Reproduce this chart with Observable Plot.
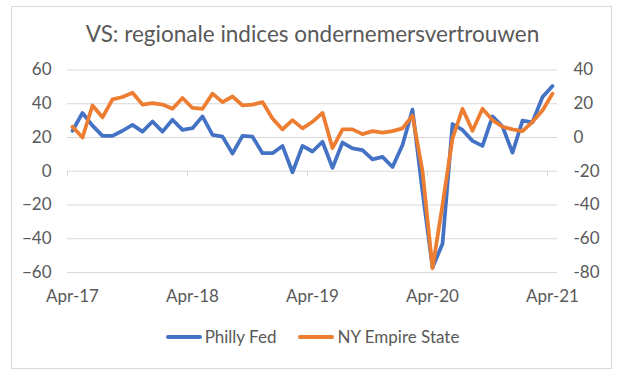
<!DOCTYPE html>
<html><head><meta charset="utf-8">
<script src="https://cdn.jsdelivr.net/npm/d3@7"></script>
<script src="https://cdn.jsdelivr.net/npm/@observablehq/plot@0.6"></script>
<style>
body{margin:0;background:#fff;}
#wrap{position:relative;width:625px;height:373px;font-family:Lato,sans-serif;color:#595959;overflow:hidden;}
#frame{position:absolute;left:11px;top:6px;width:601px;height:363px;border:1px solid #d9d9d9;box-sizing:border-box;}
#title{position:absolute;left:0;top:21px;width:625px;text-align:center;font-size:22.5px;line-height:26px;}
#chart{position:absolute;left:0;top:0;}
#legend{position:absolute;left:0;top:327px;width:625px;display:flex;justify-content:center;align-items:center;font-size:17px;line-height:20px;}
.item{display:flex;align-items:center;margin:0 11px;}
.sw{display:inline-block;width:36px;height:4px;margin-right:3px;border-radius:2px;}
</style></head>
<body><div id="wrap">
<div id="frame"></div>
<div id="title">VS: regionale indices ondernemersvertrouwen</div>
<div id="chart"></div>
<div id="legend"></div>
</div>
<script>
const months = ["Apr-17","May-17","Jun-17","Jul-17","Aug-17","Sep-17","Oct-17","Nov-17","Dec-17",
"Jan-18","Feb-18","Mar-18","Apr-18","May-18","Jun-18","Jul-18","Aug-18","Sep-18","Oct-18","Nov-18","Dec-18",
"Jan-19","Feb-19","Mar-19","Apr-19","May-19","Jun-19","Jul-19","Aug-19","Sep-19","Oct-19","Nov-19","Dec-19",
"Jan-20","Feb-20","Mar-20","Apr-20","May-20","Jun-20","Jul-20","Aug-20","Sep-20","Oct-20","Nov-20","Dec-20",
"Jan-21","Feb-21","Mar-21","Apr-21"];
const phillyFed = [24,34.5,27,21,21,24,27.5,23.5,29.5,23.5,30.5,24.5,25.5,32.5,21.5,20.5,10.5,21,20.5,10.7,10.7,
15,-0.6,15,11.7,17.5,2,17,13.5,12.5,7,8.5,2.5,15.5,36.5,-12,-57,-43,28,24.5,18,15,32.5,26.5,11,30,29,44,50.5];
const nyEmpire = [6.4,0,19,12,22.6,24,26.5,19.5,20.4,19.5,17,23.4,17.5,17,26,21,24.3,19,19.5,21,11.3,
4.8,10.3,5.4,9.3,14.6,-6.3,4.8,4.8,2,3.8,2.9,3.8,5.4,13,-20,-77.5,-40,-0.5,17,4,17,10.3,6.4,4.8,3.8,9.3,16,26];
const tickLabels = ["Apr-17","Apr-18","Apr-19","Apr-20","Apr-21"];
const leftTicks = [-60,-40,-20,0,20,40,60];
const rightTicks = [-80,-60,-40,-20,0,20,40];
const seriesNames = ["Philly Fed","NY Empire State"];
const colors = ["#4472C4","#ED7D31"];

const offset = rightTicks[rightTicks.length-1] - leftTicks[leftTicks.length-1]; // -20
const rows = months.map((m,i)=>({i, m, philly: phillyFed[i], ny: nyEmpire[i] - offset}));
const labelIdx = tickLabels.map(t => months.indexOf(t));
const bounds = labelIdx.map(i => i - 0.5);

const plot = Plot.plot({
  width: 625, height: 310,
  marginLeft: 67, marginRight: 68, marginTop: 69.5, marginBottom: 38,
  x: {type: "linear", domain: [-0.5, months.length - 0.5]},
  y: {domain: [leftTicks[0], leftTicks[leftTicks.length-1]]},
  style: {fontFamily: "Lato, sans-serif", fontSize: "17px", color: "#595959", background: "transparent"},
  marks: [
    Plot.gridY(leftTicks, {stroke: "#d9d9d9", strokeOpacity: 1, strokeWidth: 1}),
    Plot.ruleX(bounds, {y1: 0, y2: -3, stroke: "#d9d9d9", strokeWidth: 1}),
    Plot.axisY(leftTicks, {anchor: "left", tickSize: 0, tickPadding: 16, label: null, fill: "#595959"}),
    Plot.axisY(leftTicks, {anchor: "right", tickSize: 0, tickPadding: 16, label: null, fill: "#595959", tickFormat: d => d + offset}),
    Plot.axisX(labelIdx, {anchor: "bottom", tickSize: 0, tickPadding: 17, label: null, fill: "#595959", tickFormat: i => months[i]}),
    Plot.line(rows, {x: "i", y: "philly", stroke: colors[0], strokeWidth: 3.75, strokeLinejoin: "round"}),
    Plot.line(rows, {x: "i", y: "ny", stroke: colors[1], strokeWidth: 3.75, strokeLinejoin: "round"})
  ]
});
document.getElementById("chart").appendChild(plot);

const lg = document.getElementById("legend");
seriesNames.forEach((n,k)=>{
  const it = document.createElement("div"); it.className="item";
  const sw = document.createElement("span"); sw.className="sw"; sw.style.background = colors[k];
  const tx = document.createElement("span"); tx.textContent = n;
  it.appendChild(sw); it.appendChild(tx); lg.appendChild(it);
});
</script>
</body></html>
